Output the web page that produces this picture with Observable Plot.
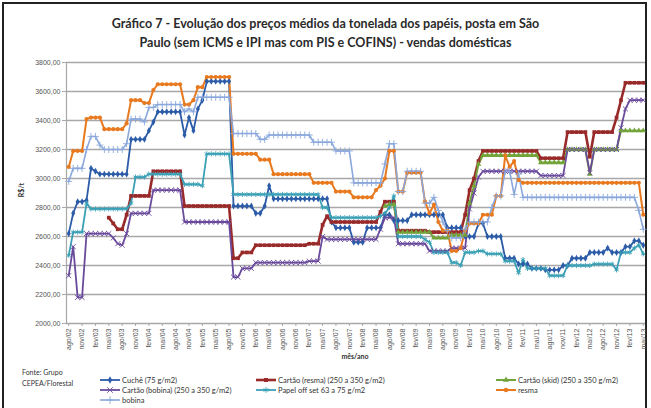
<!DOCTYPE html>
<html><head><meta charset="utf-8">
<script src="https://cdn.jsdelivr.net/npm/d3@7"></script>
<script src="https://cdn.jsdelivr.net/npm/@observablehq/plot@0.6"></script>
<style>
body{margin:0;background:#fff;}
#wrap{position:relative;width:651px;height:408px;overflow:hidden;font-family:Lato,"Liberation Sans",sans-serif;background:#fff;}
#frame{position:absolute;left:2px;top:2px;width:645px;height:420px;border:2px solid #222;box-sizing:border-box;}
#title{position:absolute;top:14px;left:0;width:651px;text-align:center;font-weight:bold;font-size:12.5px;line-height:19px;color:#2a2a2a;}
#chart{position:absolute;left:0;top:50px;}
#ylab{position:absolute;left:6px;top:186px;width:30px;text-align:center;transform:rotate(-90deg);font-size:7px;font-weight:bold;color:#333;}
#xlab{position:absolute;left:305px;top:352px;width:100px;text-align:center;font-size:7px;font-weight:bold;color:#333;}
#fonte{position:absolute;left:22px;top:367px;font-size:7px;line-height:11px;color:#333;}
.leg{position:absolute;font-size:7.5px;color:#333;white-space:nowrap;display:flex;align-items:center;height:10px;}
.leg svg{margin-right:2px;}
</style></head>
<body>
<div id="wrap">
<div id="frame"></div>
<div id="title">Gráfico 7 - Evolução dos preços médios da tonelada dos papéis, posta em São<br>Paulo (sem ICMS e IPI mas com PIS e COFINS) - vendas domésticas</div>
<div id="chart"></div>
<div id="ylab">R$/t</div>
<div id="xlab">mês/ano</div>
<div id="fonte">Fonte: Grupo<br>CEPEA/Florestal</div>
</div>
<script>
// tick labels (every 3rd month, ago/02 .. mai/13)
const tickLabels = ["ago/02","nov/02","fev/03","mai/03","ago/03","nov/03","fev/04","mai/04","ago/04","nov/04","fev/05","mai/05","ago/05","nov/05","fev/06","mai/06","ago/06","nov/06","fev/07","mai/07","ago/07","nov/07","fev/08","mai/08","ago/08","nov/08","fev/09","mai/09","ago/09","nov/09","fev/10","mai/10","ago/10","nov/10","fev/11","mai/11","ago/11","nov/11","fev/12","mai/12","ago/12","nov/12","fev/13","mai/13"];
const yTicks = [2000,2200,2400,2600,2800,3000,3200,3400,3600,3800];

const seriesNames = ["Cuchê (75 g/m2)","Cartão (resma) (250 a 350 g/m2)","Cartão (skid) (250 a 350 g/m2)","Cartão (bobina) (250 a 350 g/m2)","Papel off set 63 a 75 g/m2","resma","bobina"];

// monthly values, ago/02 .. mai/13 (130 months)
const cuche = [
2620,2760,2840,2840,2850,3070,3050,3030,3030,3030,
3030,3030,3030,3030,3270,3270,3270,3270,3330,3390,
3460,3460,3460,3460,3460,3460,3300,3420,3330,3480,
3540,3670,3670,3670,3670,3670,3670,2810,2810,2810,
2810,2810,2760,2760,2810,2950,2860,2860,2860,2860,
2860,2860,2860,2860,2860,2860,2860,2860,2860,2700,
2660,2660,2660,2660,2560,2560,2560,2660,2660,2660,
2660,2750,2750,2710,2710,2710,2710,2750,2750,2750,
2750,2750,2750,2750,2750,2660,2660,2660,2660,2600,
2600,2600,2690,2690,2600,2600,2600,2600,2450,2450,
2450,2410,2410,2410,2380,2380,2380,2370,2370,2370,
2370,2400,2400,2450,2450,2450,2450,2490,2490,2490,
2490,2520,2490,2490,2490,2530,2530,2570,2570,2540];

const cartaoResma = [
null,null,null,null,null,null,null,null,null,2730,
2690,2650,2650,2750,2880,2880,2880,2880,2880,3050,
3050,3050,3050,3050,3050,3050,2810,2810,2810,2810,
2810,2810,2810,2810,2810,2810,2810,2450,2450,2490,
2490,2490,2540,2540,2540,2540,2540,2540,2540,2540,
2540,2540,2540,2540,2550,2550,2550,2680,2740,2700,
2700,2700,2700,2700,2700,2700,2700,2700,2700,2700,
2770,2840,2840,2840,2640,2640,2640,2640,2640,2640,
2640,2630,2630,2630,2630,2630,2630,2630,2630,2750,
2920,3000,3120,3190,3190,3190,3190,3190,3190,3190,
3190,3190,3190,3190,3190,3190,3140,3140,3140,3140,
3140,3140,3320,3320,3320,3320,3320,3150,3320,3320,
3320,3320,3320,3420,3540,3660,3660,3660,3660,3660];

const cartaoSkid = [
null,null,null,null,null,null,null,null,null,null,
null,null,null,null,null,null,null,null,null,null,
null,null,null,null,null,null,null,null,null,null,
null,null,null,null,null,null,null,null,null,null,
null,null,null,null,null,null,null,null,null,null,
null,null,null,null,null,null,null,null,null,null,
null,null,null,null,null,null,null,null,null,null,
null,2810,2820,2820,2630,2630,2630,2630,2630,2630,
2630,2630,2590,2590,2590,2590,2610,2610,2610,2610,
2830,2950,3100,3160,3160,3160,3160,3160,3160,3160,
3160,3160,3160,3160,3160,3160,3110,3110,3110,3110,
3110,3110,3200,3200,3200,3200,3200,3030,3200,3200,
3200,3200,3200,3200,3330,3330,3330,3330,3330,3330];

const cartaoBobina = [
2330,2530,2180,2180,2620,2620,2620,2620,2620,2620,
2590,2550,2540,2620,2760,2760,2760,2760,2760,2920,
2920,2920,2920,2920,2920,2920,2700,2700,2700,2700,
2700,2700,2700,2700,2700,2700,2700,2320,2320,2380,
2380,2380,2420,2420,2420,2420,2420,2420,2420,2420,
2420,2420,2420,2420,2430,2430,2430,2600,2580,2580,
2580,2580,2580,2580,2580,2580,2580,2580,2580,2580,
2650,2730,2730,2730,2550,2550,2550,2550,2550,2550,
2550,2500,2500,2500,2500,2500,2520,2520,2520,2520,
2790,2900,3010,3050,3050,3050,3050,3050,3050,3050,
3050,3050,3050,3050,3050,3050,3020,3020,3020,3020,
3020,3020,3200,3200,3200,3200,3200,3040,3200,3200,
3200,3200,3200,3200,3350,3480,3540,3540,3540,3540];

const offset = [
2470,2630,2630,2630,2830,2790,2790,2790,2790,2790,
2790,2790,2790,2790,2830,3010,3010,3010,3030,3030,
3030,3030,3030,3030,3030,3030,2960,2960,2960,2960,
2950,3170,3170,3170,3170,3170,3170,2890,2890,2890,
2890,2890,2890,2890,2890,2890,2890,2890,2890,2890,
2890,2890,2890,2890,2890,2890,2890,2800,2800,2730,
2730,2730,2730,2730,2730,2730,2730,2730,2730,2730,
2740,2760,2800,2880,2600,2600,2600,2600,2600,2600,
2580,2560,2490,2490,2490,2490,2420,2420,2400,2490,
2490,2490,2500,2500,2480,2480,2480,2480,2430,2430,
2430,2350,2440,2380,2380,2380,2380,2380,2330,2330,
2330,2330,2400,2400,2400,2400,2400,2400,2410,2410,
2410,2410,2410,2370,2490,2490,2490,2520,2540,2480];

const resma = [
3080,3190,3190,3190,3410,3420,3420,3420,3340,3340,
3340,3340,3340,3380,3540,3540,3540,3520,3520,3610,
3650,3650,3650,3650,3650,3650,3510,3510,3540,3630,
3630,3700,3700,3700,3700,3700,3700,3170,3170,3170,
3170,3170,3170,3130,3130,3130,3030,3030,3030,3030,
3030,3030,3030,3030,3030,2970,2970,2970,2970,2970,
2910,2910,2910,2910,2870,2870,2870,2870,2870,2920,
2950,3000,3190,3190,2910,2910,3040,3040,3040,3040,
2840,2760,2820,2700,2640,2640,2500,2500,2520,2640,
2690,2690,2690,2750,2750,2750,2880,2880,3160,3080,
3120,2990,2970,2970,2970,2970,2970,2970,2970,2970,
2970,2970,2970,2970,2970,2970,2970,2970,2970,2970,
2970,2970,2970,2970,2970,2970,2970,2970,2970,2750];

const bobina = [
2980,3070,3070,3070,3200,3290,3290,3230,3200,3200,
3200,3200,3200,3240,3410,3410,3410,3390,3490,3490,
3510,3510,3510,3510,3510,3510,3460,3480,3460,3560,
3560,3560,3560,3560,3560,3560,3560,3310,3310,3310,
3310,3310,3310,3270,3270,3300,3300,3300,3300,3300,
3300,3300,3300,3300,3300,3250,3250,3250,3250,3250,
3190,3190,3190,3190,2970,2970,2970,2970,2970,2970,
2970,3100,3240,3240,2910,2910,3050,3050,3050,3050,
2830,2830,2870,2780,2700,2640,2590,2590,2590,2650,
2700,2700,2700,2700,2700,2800,2880,2880,3050,3050,
2890,3030,2870,2870,2870,2870,2870,2870,2870,2870,
2870,2870,2870,2870,2870,2870,2870,2870,2870,2870,
2870,2870,2870,2870,2870,2870,2870,2870,2780,2650];

const seriesValues = [cuche, cartaoResma, cartaoSkid, cartaoBobina, offset, resma, bobina];
const seriesColors = ["#2c5ca8","#992a2a","#72a43a","#6a4a9c","#3aa0b6","#e8791e","#8aa8dc"];
const seriesSymbols = ["diamond","square","triangle","times","asterisk","circle","plus"];
const strokeSymbols = new Set(["times","asterisk","plus"]);
const lineWidths = [1.8,2.6,2,1.8,1.8,2,1.6];

const tickIdx = tickLabels.map((d,k)=>k*3);

const marks = [
  Plot.gridY(yTicks, {stroke:"#a8a8a8", strokeWidth:1.6, strokeOpacity:1}),
  Plot.frame({anchor:"left", stroke:"#a8a8a8", strokeWidth:1.2}),
  Plot.axisY(yTicks, {tickFormat: d => d + ",00", tickSize:4, tickPadding:2, fontSize:7, stroke:"#a8a8a8", fill:"#555", label:null}),
  Plot.axisX(tickIdx, {tickFormat: d => tickLabels[d/3], tickRotate:-90, tickSize:3, tickPadding:2, fontSize:7, stroke:"#a8a8a8", fill:"#555", label:null})
];
seriesValues.forEach((vals, s) => {
  const data = vals.map((v,i)=>({i, v})).filter(d => d.v != null);
  marks.push(Plot.lineY(data, {x:"i", y:"v", stroke:seriesColors[s], strokeWidth:lineWidths[s]}));
});
seriesValues.forEach((vals, s) => {
  const data = vals.map((v,i)=>({i, v})).filter(d => d.v != null);
  const isStroke = strokeSymbols.has(seriesSymbols[s]);
  marks.push(Plot.dot(data, {x:"i", y:"v", symbol: seriesSymbols[s], r: isStroke ? 2.4 : 2.1,
    fill: isStroke ? "none" : seriesColors[s], stroke: isStroke ? seriesColors[s] : "none", strokeWidth: 0.9}));
});

const chart = Plot.plot({
  width: 651, height: 317,
  marginLeft: 66, marginRight: 6, marginTop: 12, marginBottom: 44,
  style: {fontFamily: "'Liberation Sans', Arial, sans-serif", background: "transparent"},
  x: {type:"linear", domain:[-0.5, 129.5]},
  y: {domain:[2000, 3800]},
  marks
});
document.getElementById("chart").appendChild(chart);

// legend
const legCols = [100, 256, 496], legRows = [375, 385, 395];
const d3sym = {diamond:d3.symbolDiamond, square:d3.symbolSquare, triangle:d3.symbolTriangle, times:d3.symbolTimes, asterisk:d3.symbolAsterisk, circle:d3.symbolCircle, plus:d3.symbolPlus};
const wrap = document.getElementById("wrap");
seriesNames.forEach((name, s) => {
  const div = document.createElement("div");
  div.className = "leg";
  div.style.left = legCols[s % 3] + "px";
  div.style.top = legRows[Math.floor(s / 3)] + "px";
  const isStroke = strokeSymbols.has(seriesSymbols[s]);
  const p = d3.symbol(d3sym[seriesSymbols[s]], isStroke ? 22 : 16)();
  div.innerHTML = `<svg width="20" height="10"><line x1="0" x2="20" y1="5" y2="5" stroke="${seriesColors[s]}" stroke-width="${lineWidths[s]}"/>`+
    `<path transform="translate(10,5)" d="${p}" fill="${isStroke?'none':seriesColors[s]}" stroke="${isStroke?seriesColors[s]:'none'}" stroke-width="0.9"/></svg><span>${name}</span>`;
  wrap.appendChild(div);
});
</script>
</body></html>
